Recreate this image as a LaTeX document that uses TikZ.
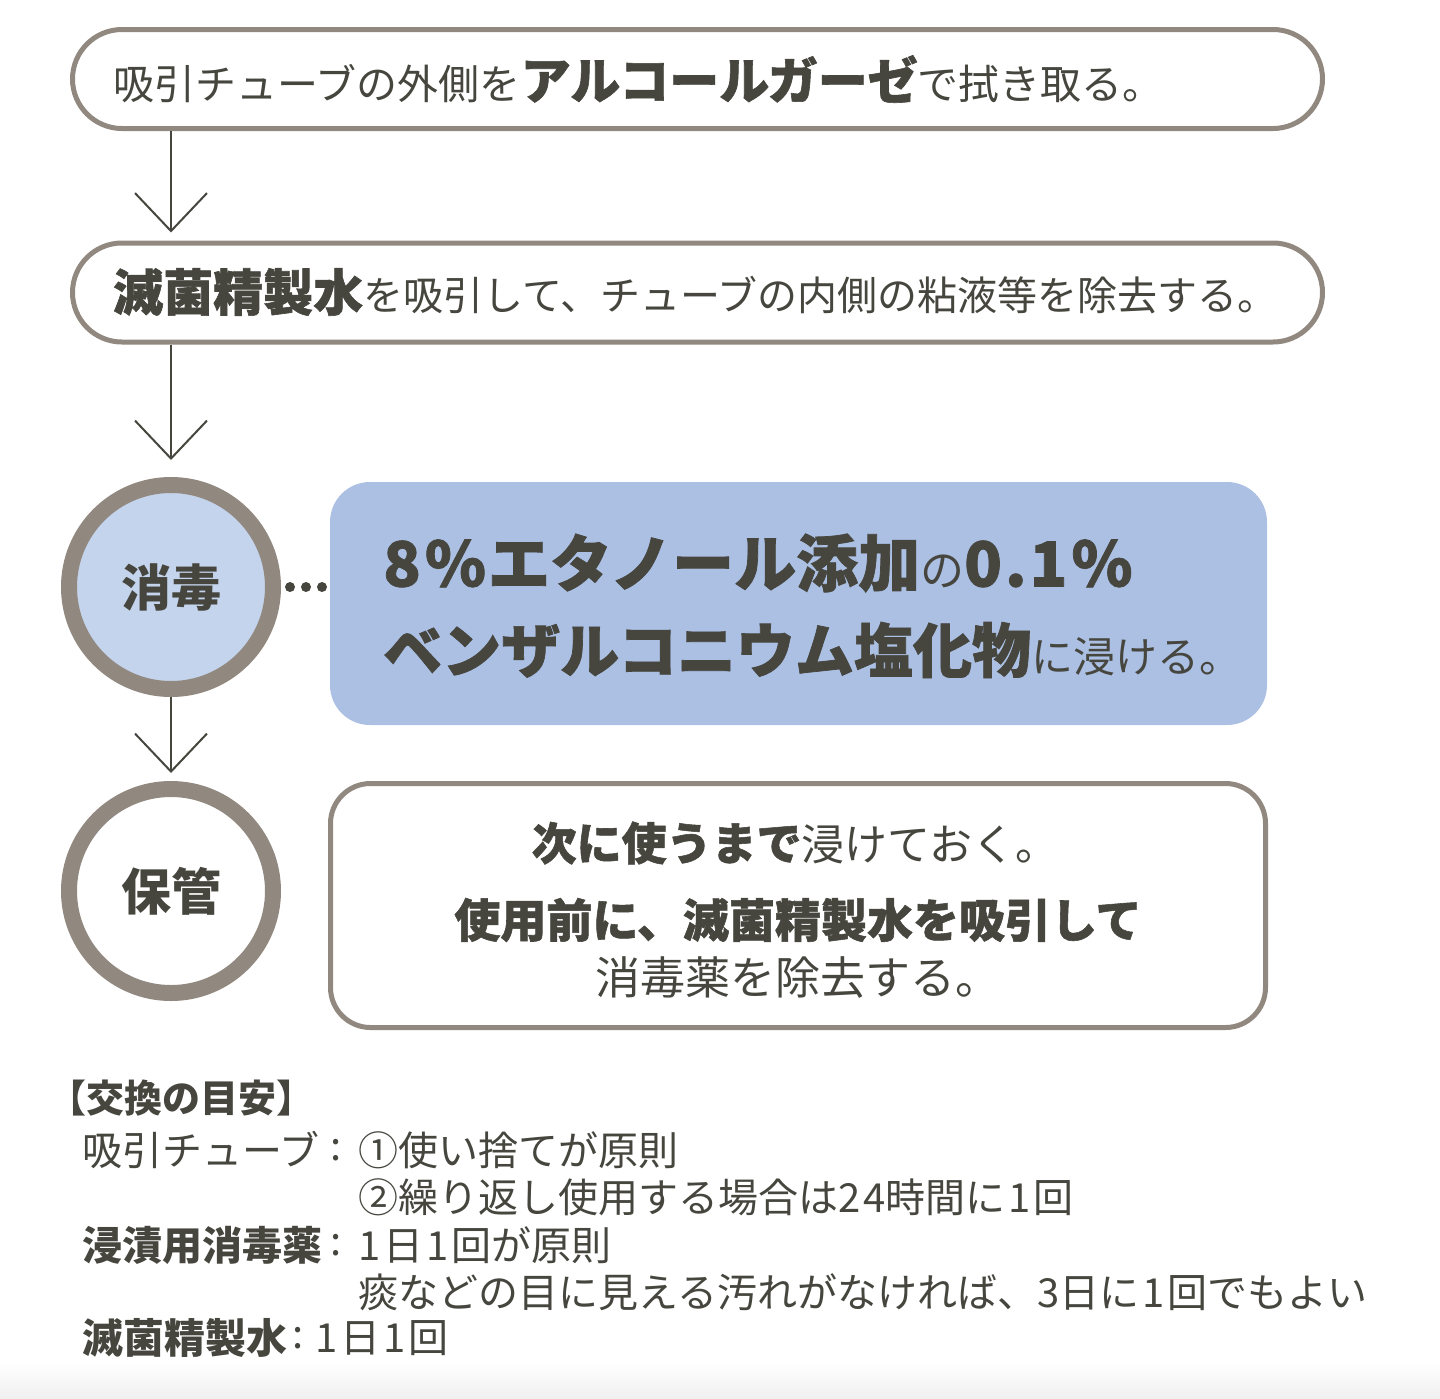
\documentclass[tikz,border=0pt]{standalone}
\usepackage{fontspec}
\setmainfont{Noto Sans CJK JP}
\usetikzlibrary{arrows.meta}
\definecolor{ink}{HTML}{46463F}
\definecolor{frame}{HTML}{918880}
\definecolor{bluebox}{HTML}{ABC0E3}
\definecolor{bluecirc}{HTML}{C4D4EC}
\newcommand\fsz[1]{\fontsize{#1}{#1}\selectfont}
\newcommand\heavy{\bfseries\addfontfeature{FakeBold=1.2}}
\tikzset{
  pill/.style={draw=frame, line width=5pt, fill=white, rounded corners=49.5pt, minimum width=1250pt, minimum height=99pt, inner sep=0pt},
  stepcirc/.style={circle, draw=frame, line width=16pt, minimum size=204pt, inner sep=0pt, text=ink, font=\bfseries\fsz{50}},
  panel/.style={rounded corners=40pt, inner sep=0pt},
  txt/.style={inner sep=0pt, text=ink, anchor=west},
  ctxt/.style={inner sep=0pt, text=ink, anchor=center},
  flow/.style={draw=ink, line width=2pt, -{Straight Barb[length=38pt,width=72pt,line width=2pt]}},
  dotline/.style={ink, line width=10pt, line cap=round, dash pattern=on 0pt off 16pt},
}
\begin{document}
\begin{tikzpicture}[x=1pt,y=-1pt]
\useasboundingbox (0,0) rectangle (1440,1398);
\fill[white] (0,0) rectangle (1440,1398);
\shade[top color=white, bottom color=black!6] (0,1362) rectangle (1440,1398);

% boxes
\node[pill] (t1) at (697.5,79) {};
\node[pill] (t2) at (697.5,292.5) {};
\node[stepcirc, fill=bluecirc] (c1) at (171,587) {消毒};
\node[stepcirc, fill=white] (c2) at (171,891) {保管};
\node[panel, fill=bluebox, minimum width=937pt, minimum height=243pt] (b1) at (798.5,603.5) {};
\node[panel, draw=frame, line width=5pt, fill=white, minimum width=935pt, minimum height=244pt] (b2) at (798,905.5) {};

% texts
\node[txt] (l1) at (113,79) {\fsz{41}吸引チューブの外側を{\heavy\fsz{50}アルコールガーゼ}で拭き取る。};
\node[txt] (l2) at (113,292) {{\heavy\fsz{50}滅菌精製水}\fsz{40}を吸引して、チューブの内側の粘液等を除去する。};
\node[txt] (l3) at (383,563) {{\heavy\fsz{62}8\hspace{4pt}\%\hspace{2pt}エタノール添加}{\fsz{44}の}{\heavy\fsz{62}0\hspace{3pt}.\hspace{3pt}1\hspace{4pt}\%}};
\node[txt] (l4) at (383,650) {{\heavy\fsz{59}ベンザルコニウム塩化物}\fsz{42}に浸ける。};
\node[ctxt] (l5) at (795,843) {{\heavy\fsz{45}次に使うまで}\fsz{43}浸けておく。};
\node[ctxt] (l6) at (798,920) {\heavy\fsz{46}使用前に、滅菌精製水を吸引して};
\node[ctxt] (l7) at (798,978) {\fsz{45}消毒薬を除去する。};

% bottom notes
\node[txt] (n0) at (48,1098) {\bfseries\fsz{38}【交換の目安】};
\node[txt] (n1) at (82,1150) {\fsz{40}吸引チューブ};
\node[txt] (n1c) at (330,1150) {\fsz{40}:};
\node[txt] (n1v) at (358,1150) {\fsz{40}①使い捨てが原則};
\node[txt] (n2v) at (358,1197) {\fsz{40}②繰り返し使用する場合は2\hspace{3pt}4時間に\hspace{3pt}1\hspace{3pt}回};
\node[txt] (n3) at (82,1245) {\bfseries\fsz{40}浸漬用消毒薬};
\node[txt] (n3c) at (330,1245) {\fsz{40}:};
\node[txt] (n3v) at (358,1245) {\fsz{40}1\hspace{3pt}日\hspace{3pt}1\hspace{3pt}回が原則};
\node[txt] (n4v) at (358,1292) {\fsz{40}痰などの目に見える汚れがなければ、3日に\hspace{3pt}1\hspace{3pt}回でもよい};
\node[txt] (n5) at (82,1338) {\bfseries\fsz{41}滅菌精製水};
\node[txt] (n5c) at (292,1338) {\fsz{40}:};
\node[txt] (n5v) at (315,1338) {\fsz{40}1\hspace{3pt}日\hspace{3pt}1\hspace{3pt}回};

% connectors
\draw[flow, shorten >=8pt] (t1.south -| c1) -- (t2.north -| c1);
\draw[flow, shorten >=17pt] (t2.south -| c1) -- (c1.north);
\draw[flow, shorten >=8pt] (c1.south) -- (c2.north);
\draw[dotline, shorten <=9pt, shorten >=7pt] (c1.east) -- (c1.east -| b1.west);
\end{tikzpicture}
\end{document}
